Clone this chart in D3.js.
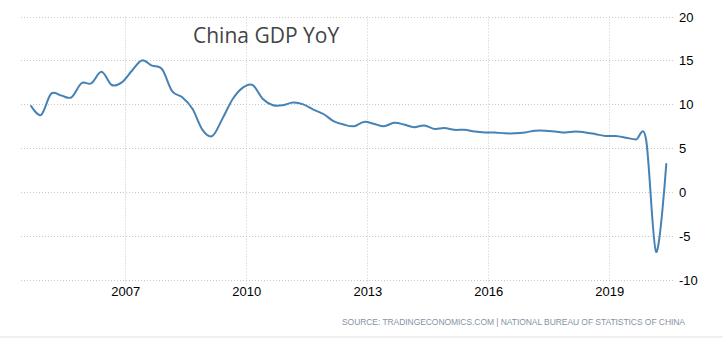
<!DOCTYPE html>
<html>
<head>
<meta charset="utf-8">
<script src="https://cdn.jsdelivr.net/npm/d3@7"></script>
<style>
  html, body { margin: 0; padding: 0; background: #fff; }
  svg { display: block; }
</style>
</head>
<body>
<svg id="chart" width="723" height="338"></svg>
<script>
// ---- data (quarterly China GDP YoY, %) ----
const quarters = [
  "2004Q3","2004Q4",
  "2005Q1","2005Q2","2005Q3","2005Q4",
  "2006Q1","2006Q2","2006Q3","2006Q4",
  "2007Q1","2007Q2","2007Q3","2007Q4",
  "2008Q1","2008Q2","2008Q3","2008Q4",
  "2009Q1","2009Q2","2009Q3","2009Q4",
  "2010Q1","2010Q2","2010Q3","2010Q4",
  "2011Q1","2011Q2","2011Q3","2011Q4",
  "2012Q1","2012Q2","2012Q3","2012Q4",
  "2013Q1","2013Q2","2013Q3","2013Q4",
  "2014Q1","2014Q2","2014Q3","2014Q4",
  "2015Q1","2015Q2","2015Q3","2015Q4",
  "2016Q1","2016Q2","2016Q3","2016Q4",
  "2017Q1","2017Q2","2017Q3","2017Q4",
  "2018Q1","2018Q2","2018Q3","2018Q4",
  "2019Q1","2019Q2","2019Q3","2019Q4",
  "2020Q1","2020Q2"
];
const gdpYoY = [
  9.8, 8.8,
  11.2, 11.0, 10.8, 12.4,
  12.4, 13.7, 12.2, 12.5,
  13.8, 15.0, 14.4, 14.0,
  11.5, 10.8, 9.5, 7.1,
  6.4, 8.4, 10.6, 11.9,
  12.2, 10.6, 9.9, 9.9,
  10.2, 10.0, 9.4, 8.9,
  8.1, 7.7, 7.5, 8.0,
  7.8, 7.5, 7.9, 7.7,
  7.4, 7.6, 7.2, 7.3,
  7.1, 7.1, 6.9, 6.8,
  6.8, 6.7, 6.7, 6.8,
  7.0, 7.0, 6.9, 6.8,
  6.9, 6.8, 6.6, 6.4,
  6.4, 6.2, 6.0, 6.0,
  -6.8, 3.2
];
const yTicks = [-10, -5, 0, 5, 10, 15, 20];
const xTickYears = [2007, 2010, 2013, 2016, 2019];
const titleText = "China GDP YoY";
const sourceText = "SOURCE: TRADINGECONOMICS.COM | NATIONAL BUREAU OF STATISTICS OF CHINA";

// ---- build ----
// each quarter plotted at the end of its middle month
function quarterDate(q) {
  const yr = +q.slice(0, 4), n = +q.slice(5);
  return new Date(yr, (n - 1) * 3 + 2, 0);
}
const data = quarters.map((q, i) => ({ date: quarterDate(q), value: gdpYoY[i] }));

const svg = d3.select("#chart");
const W = 723;
const plotLeft = 21, plotRight = 673, plotTop = 16.5, plotBottom = 280;

const x = d3.scaleTime()
  .domain([new Date(2007, 0, 1), new Date(2019, 0, 1)])
  .range([125.3, 609.3]);
const y = d3.scaleLinear().domain([-10, 20]).range([plotBottom, plotTop]);

// bottom grey band
svg.append("rect").attr("x", 0).attr("y", 336).attr("width", W).attr("height", 2).attr("fill", "#f0f0f0");

// horizontal grid
const gridColor = "#c8c8c8";
svg.append("g").selectAll("line").data(yTicks).join("line")
  .attr("x1", plotLeft).attr("x2", plotRight)
  .attr("y1", d => Math.round(y(d)) + 0.5).attr("y2", d => Math.round(y(d)) + 0.5)
  .attr("stroke", gridColor).attr("stroke-width", 1).attr("stroke-dasharray", "1,2");

// vertical grid
const xTickDates = xTickYears.map(yr => new Date(yr, 0, 1));
svg.append("g").selectAll("line").data(xTickDates).join("line")
  .attr("x1", d => Math.round(x(d)) + 0.5).attr("x2", d => Math.round(x(d)) + 0.5)
  .attr("y1", plotTop).attr("y2", 284)
  .attr("stroke", gridColor).attr("stroke-width", 1).attr("stroke-dasharray", "1,2");

const axisFont = "'Liberation Sans Narrow','Arial Narrow','Liberation Sans',Arial,sans-serif";

// y axis labels (right)
const yAxis = d3.axisRight(y).tickValues(yTicks).tickFormat(d => String(d)).tickSize(0).tickPadding(0);
const gy = svg.append("g").attr("transform", "translate(679,0)").call(yAxis);
gy.select(".domain").remove();
gy.selectAll("text")
  .attr("font-family", axisFont)
  .attr("font-size", 13).attr("fill", "#000").attr("dy", "0.35em");

// x axis labels
const xAxis = d3.axisBottom(x).tickValues(xTickDates).tickFormat(d3.timeFormat("%Y")).tickSize(0).tickPadding(0);
const gx = svg.append("g").attr("transform", "translate(0,287)").call(xAxis);
gx.select(".domain").remove();
gx.selectAll("text")
  .attr("font-family", axisFont)
  .attr("font-size", 13).attr("fill", "#000").attr("dy", "0.71em");

// line
const line = d3.line()
  .x(d => x(d.date))
  .y(d => y(d.value))
  .curve(d3.curveCardinal.tension(0));
svg.append("path").datum(data)
  .attr("d", line)
  .attr("fill", "none")
  .attr("stroke", "#4682b4")
  .attr("stroke-width", 2)
  .attr("stroke-linejoin", "round")
  .attr("stroke-linecap", "round");

// title
svg.append("text")
  .attr("x", 193).attr("y", 43)
  .attr("font-family", "'Open Sans','Noto Sans',sans-serif")
  .attr("font-size", 21)
  .attr("fill", "#444")
  .text(titleText);

// source
svg.append("text")
  .attr("x", 685).attr("y", 325)
  .attr("text-anchor", "end")
  .attr("font-family", "'Liberation Sans','DejaVu Sans',sans-serif")
  .attr("font-size", 8.5)
  .attr("fill", "#8593a5")
  .attr("textLength", 343)
  .attr("lengthAdjust", "spacing")
  .text(sourceText);
</script>
</body>
</html>
